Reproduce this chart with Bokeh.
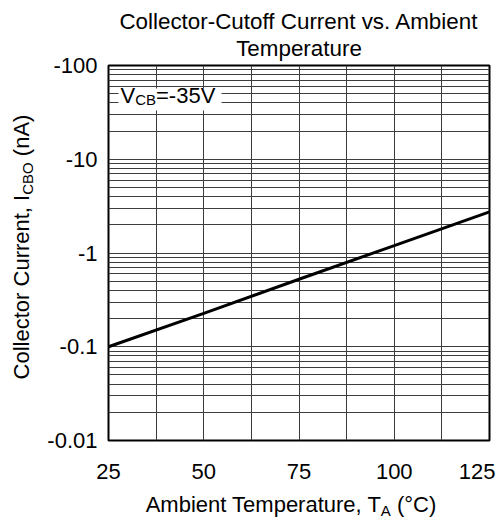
from bokeh.plotting import figure
from bokeh.models import Range1d, FixedTicker, Label, BoxAnnotation, Title, Div
from bokeh.layouts import column, row
from bokeh.embed import file_html
from bokeh.resources import INLINE

# ---- data ----
temps = [25, 50, 75, 100, 125]            # Ambient temperature (°C)
icbo = [0.10, 0.227, 0.525, 1.2, 2.75]     # |I_CBO| (nA)

x_ticks = [25, 50, 75, 100, 125]
x_tick_labels = ["25", "50", "75", "100", "125\u00a0"]
x_minor = [37.5, 62.5, 87.5, 112.5]
y_ticks = [0.01, 0.1, 1, 10, 100]
y_tick_labels = ["-0.01", "-0.1", "-1", "-10", "-100"]
y_minor = [m * 10 ** d for d in (-2, -1, 0, 1) for m in range(2, 10)]

title_lines = ["Collector-Cutoff Current vs. Ambient", "Temperature"]
ylabel_html = "Collector Current, I<sub>CBO</sub> (nA)"
xlabel_html = "Ambient Temperature, T<sub>A</sub> (°C)"
note_parts = ["V", "CB", "=-35V"]

FONT = "Liberation Sans"
FS = 22
TFS = 22.4
SUB = 15
GRID = "#3c3c3c"

W = {'=': 584, '-': 333, 'V': 667, 'C': 722, 'B': 667}
for d in "0123456789":
    W[d] = 556


def tw(s, size):
    return sum(W.get(c, 556) for c in s) / 1000.0 * size


p = figure(frame_width=381, frame_height=375,
           x_range=Range1d(25, 125), y_range=Range1d(0.01, 100),
           y_axis_type="log", output_backend="svg", toolbar_location=None,
           min_border_left=68, min_border_right=12,
           min_border_top=65, min_border_bottom=45)
p.background_fill_color = "white"
p.border_fill_color = "white"
p.outline_line_color = "black"
p.outline_line_width = 2

# two title lines: the first added sits closest to the frame
p.add_layout(Title(text=title_lines[1], align="center", offset=-7, standoff=5,
                   vertical_align="top",
                   text_font=FONT, text_font_size=f"{TFS}px",
                   text_font_style="normal", text_color="black"), "above")
p.add_layout(Title(text=title_lines[0], align="center", offset=-8, standoff=0,
                   text_font=FONT, text_font_size=f"{TFS}px",
                   text_font_style="normal", text_color="black"), "above")

# x axis
xt = FixedTicker(ticks=x_ticks, minor_ticks=x_minor)
p.xaxis.ticker = xt
p.xaxis.major_label_overrides = {t: l for t, l in zip(x_ticks, x_tick_labels)}
p.xgrid.ticker = xt
# y axis
yt = FixedTicker(ticks=y_ticks, minor_ticks=y_minor)
p.yaxis.ticker = yt
p.yaxis.major_label_overrides = {t: l for t, l in zip(y_ticks, y_tick_labels)}
p.ygrid.ticker = yt

for ax in (p.xaxis, p.yaxis):
    ax.major_tick_in = 0
    ax.major_tick_out = 0
    ax.minor_tick_in = 0
    ax.minor_tick_out = 0
    ax.axis_line_color = None
    ax.major_label_text_font = FONT
    ax.major_label_text_font_size = f"{FS}px"
    ax.major_label_text_color = "black"
p.yaxis.major_label_standoff = 11
p.xaxis.major_label_standoff = 18

for g in (p.xgrid, p.ygrid):
    g.grid_line_color = GRID
    g.minor_grid_line_color = GRID
    g.grid_line_width = 1
    g.minor_grid_line_width = 1

p.line(temps, icbo, line_color="black", line_width=3)

# condition note with white background (inside the frame)
p.add_layout(BoxAnnotation(left=10, right=113, top=352, bottom=330,
                           left_units="screen", right_units="screen",
                           top_units="screen", bottom_units="screen",
                           fill_color="white", fill_alpha=1.0, line_color=None))
nx = 12
for s, z, sh in zip(note_parts, [FS, SUB, FS], [0, -4, 0]):
    p.add_layout(Label(x=nx, y=345 + sh, x_units="screen", y_units="screen",
                       text=s, text_font=FONT, text_font_size=f"{z}px",
                       text_color="black", text_align="left",
                       text_baseline="alphabetic"))
    nx += tw(s, z)

SUBSTYLE = f"font-size:{SUB}px;vertical-align:-4px;line-height:0"
SPANSTYLE = (f"position:absolute;white-space:nowrap;font-family:'{FONT}';"
             f"font-size:{FS}px;line-height:26px;color:black;")

ylab = Div(width=40, height=485, margin=0, text=(
    '<div style="position:relative;width:40px;height:485px;">'
    f'<span style="{SPANSTYLE}left:22px;top:247px;'
    'transform:translate(-50%,-50%) rotate(-90deg);">'
    + ylabel_html.replace("<sub>", f'<sub style="{SUBSTYLE}">') +
    '</span></div>'))

xlab = Div(width=501, height=40, margin=0, text=(
    '<div style="position:relative;width:501px;height:40px;">'
    f'<span style="{SPANSTYLE}left:291px;top:6px;transform:translateX(-50%);">'
    + xlabel_html.replace("<sub>", f'<sub style="{SUBSTYLE}">') +
    '</span></div>'))

layout = column(row(ylab, p, spacing=0), xlab, spacing=0)

open("out.html", "w").write(file_html(layout, INLINE))
